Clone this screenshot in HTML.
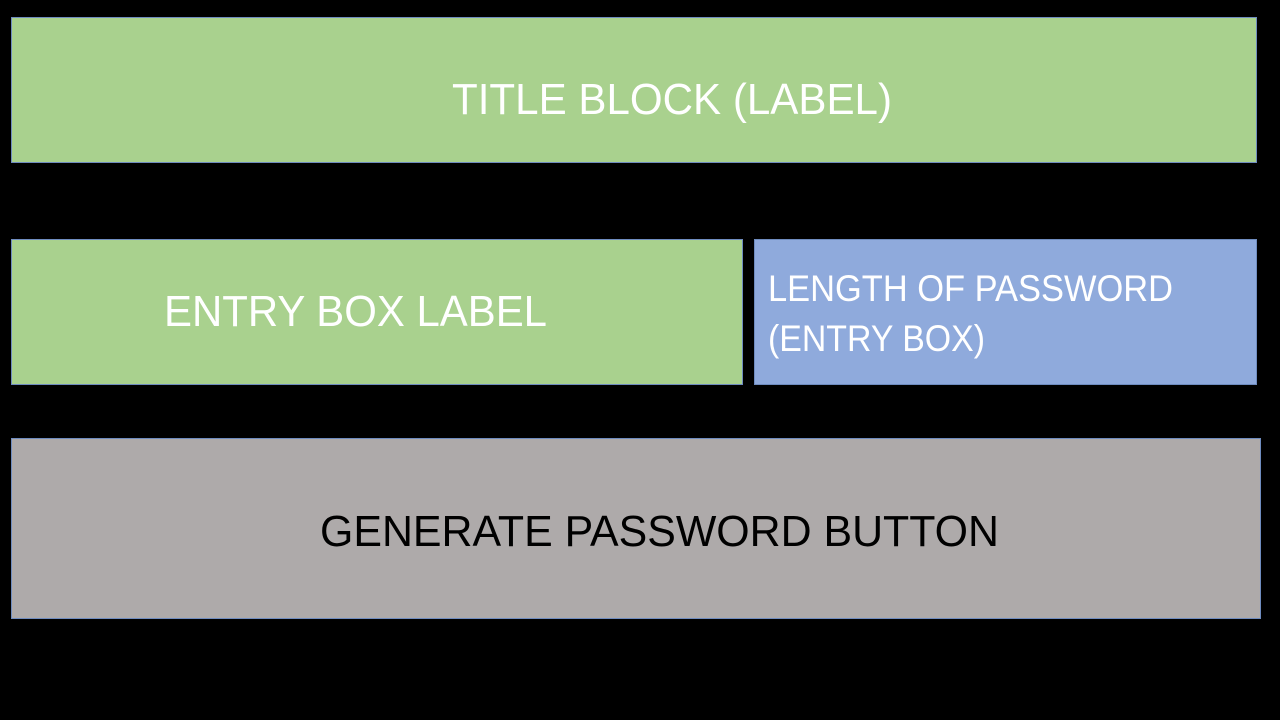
<!DOCTYPE html>
<html><head><meta charset="utf-8"><style>html,body{margin:0;padding:0;background:#000;}svg{display:block}</style></head>
<body>
<svg width="1280" height="720" viewBox="0 0 1280 720" xmlns="http://www.w3.org/2000/svg" font-family="Liberation Sans, sans-serif">
<rect width="1280" height="720" fill="#000"/>
<rect x="11.5" y="17.5" width="1245" height="145" fill="#a9d18e" stroke="#6f8cbf" stroke-width="1"/>
<rect x="11.5" y="239.5" width="731" height="145" fill="#a9d18e" stroke="#6f8cbf" stroke-width="1"/>
<rect x="754.5" y="239.5" width="502" height="145" fill="#8faadc" stroke="#6f8cbf" stroke-width="1"/>
<rect x="11.5" y="438.5" width="1249" height="180" fill="#aeaaaa" stroke="#6f8cbf" stroke-width="1"/>
<g fill="#fff" font-size="44">
<text x="452" y="114" textLength="440" lengthAdjust="spacingAndGlyphs">TITLE BLOCK (LABEL)</text>
<text x="164" y="326" textLength="383" lengthAdjust="spacingAndGlyphs">ENTRY BOX LABEL</text>
</g>
<g fill="#fff" font-size="37">
<text x="768" y="301" textLength="405" lengthAdjust="spacingAndGlyphs">LENGTH OF PASSWORD</text>
<text x="768" y="351" textLength="217" lengthAdjust="spacingAndGlyphs">(ENTRY BOX)</text>
</g>
<text x="320" y="546" fill="#000" font-size="44" textLength="679" lengthAdjust="spacingAndGlyphs">GENERATE PASSWORD BUTTON</text>
</svg>
</body></html>
